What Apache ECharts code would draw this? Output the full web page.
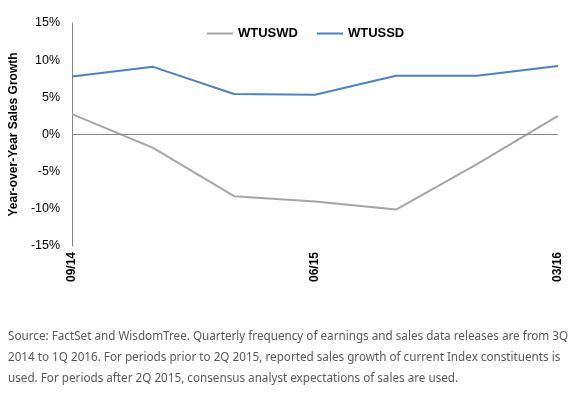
<!DOCTYPE html>
<html>
<head>
<meta charset="utf-8">
<script src="https://cdn.jsdelivr.net/npm/echarts@6/dist/echarts.min.js"></script>
<style>
  html, body { margin: 0; padding: 0; background: #fff; }
  #chart { width: 572px; height: 393px; }
</style>
</head>
<body>
<div id="chart"></div>
<script>
// quarters
const categories = ['09/14', '12/14', '03/15', '06/15', '09/15', '12/15', '03/16']
// year-over-year sales growth, %
const wtuswd = [2.75, -1.8, -8.3, -9.0, -10.1, -4.0, 2.5]
const wtussd = [7.8, 9.1, 5.45, 5.35, 7.9, 7.9, 9.2]
const yTicks = { min: -15, max: 15, interval: 5 }

const noteLines = [
    'Source: FactSet and WisdomTree. Quarterly frequency of earnings and sales data releases are from 3Q',
    '2014 to 1Q 2016. For periods prior to 2Q 2015, reported sales growth of current Index constituents is',
    'used. For periods after 2Q 2015, consensus analyst expectations of sales are used.'
]

const chart = echarts.init(document.getElementById('chart'))

const option = {
    animation: false,
    grid: { left: 67, right: 14, top: 23, bottom: 147 },
    legend: {
        top: 22,
        left: 202,
        itemWidth: 26,
        itemHeight: 2,
        itemGap: 19,
        icon: 'rect',
        textStyle: { fontFamily: 'Liberation Sans', fontWeight: 'bold', fontSize: 13, color: '#000' },
        data: ['WTUSWD', 'WTUSSD']
    },
    xAxis: {
        type: 'category',
        data: categories,
        boundaryGap: false,
        axisLine: { show: false, onZero: false },
        axisTick: { show: false },
        axisLabel: {
            interval: 2,
            rotate: 90,
            margin: 6,
            fontFamily: 'Liberation Sans',
            fontWeight: 'bold',
            fontSize: 12,
            color: '#000'
        }
    },
    yAxis: {
        type: 'value',
        min: yTicks.min,
        max: yTicks.max,
        interval: yTicks.interval,
        name: 'Year-over-Year Sales Growth',
        nameLocation: 'middle',
        nameGap: 50,
        nameTextStyle: { fontFamily: 'Liberation Sans', fontWeight: 'bold', fontSize: 12, color: '#000' },
        axisLine: { show: true, lineStyle: { color: '#868686', width: 1 } },
        axisTick: { show: false },
        splitLine: { show: false },
        axisLabel: {
            formatter: v => v + '%',
            fontFamily: 'Liberation Sans',
            fontSize: 12.5,
            color: '#000',
            margin: 12
        }
    },
    series: [
        {
            name: 'WTUSWD',
            type: 'line',
            data: wtuswd,
            symbol: 'none',
            lineStyle: { color: '#A5A5A5', width: 2 },
            itemStyle: { color: '#A5A5A5' },
            markLine: {
                silent: true,
                symbol: 'none',
                label: { show: false },
                lineStyle: { color: '#868686', width: 1, type: 'solid' },
                data: [{ yAxis: 0 }]
            }
        },
        {
            name: 'WTUSSD',
            type: 'line',
            data: wtussd,
            symbol: 'none',
            lineStyle: { color: '#4F81BD', width: 2 },
            itemStyle: { color: '#4F81BD' }
        }
    ],
    graphic: noteLines.map((t, i) => ({
        type: 'text',
        left: 8,
        top: 331 + i * 21,
        style: {
            text: t,
            fontFamily: 'Noto Sans',
            fontSize: 11.7,
            fill: '#595959'
        }
    }))
}

chart.setOption(option)
</script>
</body>
</html>
